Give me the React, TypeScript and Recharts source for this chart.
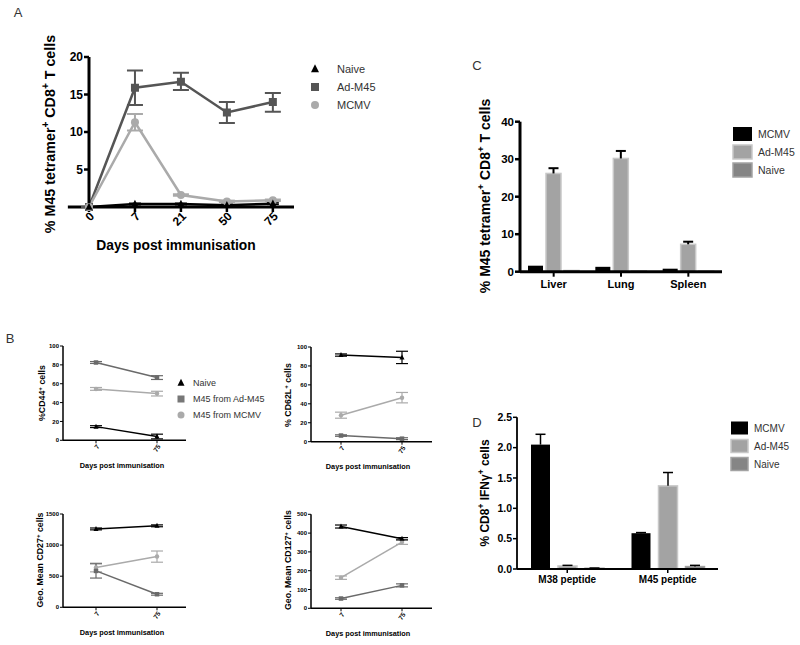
import React from 'react';
import { LineChart, Line, BarChart, Bar, XAxis, YAxis, ErrorBar, ReferenceLine, Label, Legend } from 'recharts';

const W = 800;
const H = 645;
const FONT = '"Liberation Sans", Arial, Helvetica, sans-serif';

const BLACK = '#000000';
const DARK_A = '#555555';
const DARK_B = '#6a6a6a';
const LIGHT = '#aaaaaa';
const BAR_AD = '#a3a3a3';
const BAR_AD_EDGE = '#c8c8c8';
const BAR_NAIVE = '#858585';
const BAR_NAIVE_EDGE = '#a3a3a3';
const LEG_TEXT = '#333333';

// ---------------- Panel A ----------------
const daysA = ['0', '7', '21', '50', '75'];
const naiveA = [0, 0.4, 0.4, 0.25, 0.45];
const naiveAErr = [0, 0.1, 0.1, 0.1, 0.1];
const adA = [0, 15.9, 16.7, 12.6, 14.0];
const adAErrLow = [0, 2.3, 1.1, 1.4, 1.3];
const adAErrHigh = [0, 2.3, 1.2, 1.4, 1.2];
const mcmvA = [0, 11.3, 1.6, 0.75, 0.9];
const mcmvAErr = [0, 1.1, 0.1, 0.1, 0.1];
const yTicksA = [5, 10, 15, 20];
const legendA = ['Naive', 'Ad-M45', 'MCMV'];

// ---------------- Panel B ----------------
const daysB = ['7', '75'];
const legendB = ['Naive', 'M45 from Ad-M45', 'M45 from MCMV'];

const cd44Naive = [14.5, 4];
const cd44NaiveErr = [1, 2.5];
const cd44Ad = [82.5, 66.5];
const cd44AdErr = [1, 2];
const cd44Mcmv = [54.5, 49.5];
const cd44McmvErr = [1.5, 2.5];

const cd62Naive = [91.5, 89];
const cd62NaiveErr = [1.2, 6.5];
const cd62Ad = [6.5, 3.2];
const cd62AdErr = [0.8, 1];
const cd62Mcmv = [28, 46.5];
const cd62McmvErr = [3.2, 5.5];

const cd27Naive = [1260, 1310];
const cd27NaiveErr = [15, 15];
const cd27Ad = [585, 210];
const cd27AdErr = [115, 15];
const cd27Mcmv = [640, 815];
const cd27McmvErr = [70, 90];

const cd127Naive = [435, 370];
const cd127NaiveErr = [8, 6];
const cd127Ad = [52, 122];
const cd127AdErr = [4, 8];
const cd127Mcmv = [163, 352];
const cd127McmvErr = [9, 12];

const pctTicks = [0, 20, 40, 60, 80, 100];
const cd27Ticks = [0, 500, 1000, 1500];
const cd127Ticks = [0, 100, 200, 300, 400, 500];

// ---------------- Panel C ----------------
const tissuesC = ['Liver', 'Lung', 'Spleen'];
const mcmvC = [1.6, 1.3, 0.8];
const mcmvCErr = [0, 0, 0];
const adC = [26.2, 30.2, 7.3];
const adCErr = [1.4, 2.0, 0.7];
const naiveC = [0.3, 0.15, 0.1];
const naiveCErr = [0, 0, 0];
const yTicksC = [0, 10, 20, 30, 40];
const legendC = ['MCMV', 'Ad-M45', 'Naive'];

// ---------------- Panel D ----------------
const peptidesD = ['M38 peptide', 'M45 peptide'];
const mcmvD = [2.05, 0.59];
const mcmvDErr = [0.17, 0.01];
const adD = [0.05, 1.37];
const adDErr = [0.01, 0.22];
const naiveD = [0.012, 0.04];
const naiveDErr = [0.004, 0.02];
const yTicksD = [0, 0.5, 1, 1.5, 2, 2.5];
const legendD = ['MCMV', 'Ad-M45', 'Naive'];

// ---------------- helpers ----------------
type Seg = [string, boolean?];

const RichText = ({ cx, cy, fs, segs, rotate = 0, weight = 'bold', fill = '#000' }: any) => {
  const shift = fs * 0.4;
  let sup = false;
  const kids: any[] = [];
  segs.forEach((s: Seg, i: number) => {
    const isSup = !!s[1];
    let dy: number | undefined;
    if (isSup && !sup) dy = -shift;
    else if (!isSup && sup) dy = shift;
    kids.push(
      <tspan key={i} dy={dy} fontSize={isSup ? fs * 0.7 : fs}>
        {s[0]}
      </tspan>
    );
    sup = isSup;
  });
  const x = rotate === -90 ? cx + fs * 0.35 : cx;
  const y = rotate === -90 ? cy : cy + fs * 0.35;
  return (
    <text
      x={x}
      y={y}
      textAnchor="middle"
      fontSize={fs}
      fontWeight={weight}
      fontFamily={FONT}
      fill={fill}
      transform={rotate ? `rotate(${rotate}, ${x}, ${y})` : undefined}
    >
      {kids}
    </text>
  );
};

const RotTick = (props: any) => {
  const { x, y, payload, labels, fs, angle, dx = 0, dy = 0 } = props;
  const label = labels ? labels[payload.value] : payload.value;
  const px = x + dx;
  const py = y + dy;
  return (
    <text
      x={px}
      y={py}
      transform={`rotate(${angle}, ${px}, ${py})`}
      textAnchor="end"
      dy="0.35em"
      fontSize={fs}
      fontWeight="bold"
      fontFamily={FONT}
      fill="#000"
    >
      {label}
    </text>
  );
};

const Marker = ({ shape, x, y, s, fill }: any) => {
  if (shape === 'tri')
    return <polygon points={`${x},${y - s * 0.6} ${x + s / 2},${y + s * 0.4} ${x - s / 2},${y + s * 0.4}`} fill={fill} />;
  if (shape === 'sq') return <rect x={x - s / 2} y={y - s / 2} width={s} height={s} fill={fill} />;
  return <circle cx={x} cy={y} r={s / 2} fill={fill} />;
};

const dotFn = (shape: string, s: number, fill: string) => (p: any) => {
  if (p.cx == null || p.cy == null) return <g key={`n${p.index}`} />;
  return <Marker key={`d${p.index}`} shape={shape} x={p.cx} y={p.cy} s={s} fill={fill} />;
};

const barShape = (valKey: string, errKey: string, fill: string, edge: string | undefined, cap: number, sw: number) => (p: any) => {
  const { x, y, width, height, payload } = p;
  const v = payload[valKey];
  const e = payload[errKey] || 0;
  const k = v > 0 ? height / v : 0;
  const top = y - e * k;
  const cx = x + width / 2;
  return (
    <g>
      <rect
        x={x}
        y={y}
        width={width}
        height={Math.max(height, 0)}
        fill={fill}
        stroke={edge || 'none'}
        strokeWidth={edge ? 1.5 : 0}
      />
      {e > 0 && (
        <g>
          <line x1={cx} x2={cx} y1={y} y2={top} stroke="#000" strokeWidth={sw} />
          <line x1={cx - cap / 2} x2={cx + cap / 2} y1={top} y2={top} stroke="#000" strokeWidth={sw} />
        </g>
      )}
    </g>
  );
};

const Layer = ({ children }: any) => (
  <div style={{ position: 'absolute', left: 0, top: 0, width: W, height: H }}>{children}</div>
);

const LegendMarkers = ({ names, shapes, colors, size, fs, mx, tx, rows, w, h }: any) => (
  <svg width={w} height={h} style={{ display: 'block', overflow: 'visible' }}>
    {names.map((n: string, i: number) => (
      <g key={n}>
        <Marker shape={shapes[i]} x={mx} y={rows[i]} s={size} fill={colors[i]} />
        <text x={tx} y={rows[i] + fs * 0.35} fontSize={fs} fontFamily={FONT} fill={LEG_TEXT}>
          {n}
        </text>
      </g>
    ))}
  </svg>
);

const LegendBoxes = ({ names, fills, edges, bx, bw, bh, fs, tx, rows, w, h }: any) => (
  <svg width={w} height={h} style={{ display: 'block', overflow: 'visible' }}>
    {names.map((n: string, i: number) => (
      <g key={n}>
        <rect
          x={bx}
          y={rows[i] - bh / 2}
          width={bw}
          height={bh}
          fill={fills[i]}
          stroke={edges[i] || 'none'}
          strokeWidth={edges[i] ? 1.5 : 0}
        />
        <text x={tx} y={rows[i] + fs * 0.35} fontSize={fs} fontFamily={FONT} fill={LEG_TEXT}>
          {n}
        </text>
      </g>
    ))}
  </svg>
);

// ---------------- Panel A chart ----------------
const dataA = daysA.map((d, i) => ({
  idx: i,
  day: d,
  naive: naiveA[i],
  naiveErr: naiveAErr[i],
  ad: adA[i],
  adErr: [adAErrLow[i], adAErrHigh[i]],
  mcmv: mcmvA[i],
  mcmvErr: mcmvAErr[i],
}));

const ChartA = () => {
  const left = 89, right = 294, top = 57, bottom = 207;
  return (
    <LineChart
      width={W}
      height={H}
      data={dataA}
      margin={{ top, right: W - right, left: left - 50, bottom: H - bottom - 40 }}
    >
      <XAxis
        type="number"
        dataKey="idx"
        domain={[0, 4.46]}
        ticks={[0, 1, 2, 3, 4]}
        interval={0}
        height={40}
        axisLine={{ stroke: '#000', strokeWidth: 3 }}
        tickLine={{ stroke: '#000', strokeWidth: 2.5 }}
        tickSize={5}
        tick={<RotTick labels={daysA} fs={12} angle={-45} dx={3} dy={0} />}
      >
        <Label content={() => <RichText cx={176} cy={245} fs={13.8} segs={[['Days post immunisation']]} />} />
      </XAxis>
      <YAxis
        domain={[0, 20]}
        ticks={yTicksA}
        interval={0}
        width={50}
        axisLine={{ stroke: '#000', strokeWidth: 3 }}
        tickLine={{ stroke: '#000', strokeWidth: 2.5 }}
        tickSize={5}
        tickMargin={1}
        tick={{ fontSize: 12, fontWeight: 'bold', fill: '#000', fontFamily: FONT }}
      >
        <Label
          content={() => (
            <RichText
              cx={50}
              cy={134}
              fs={14.3}
              rotate={-90}
              segs={[['% M45 tetramer'], ['+', true], [' CD8'], ['+', true], [' T cells']]}
            />
          )}
        />
      </YAxis>
      <ReferenceLine
        segment={[{ x: -0.46, y: 0 }, { x: 0, y: 0 }]}
        stroke="#000"
        strokeWidth={3}
        ifOverflow="visible"
      />
      <Line dataKey="ad" stroke={DARK_A} strokeWidth={2.5} dot={dotFn('sq', 8, DARK_A)} isAnimationActive={false}>
        <ErrorBar dataKey="adErr" width={8} stroke={DARK_A} strokeWidth={2} direction="y" />
      </Line>
      <Line dataKey="mcmv" stroke={LIGHT} strokeWidth={2.5} dot={dotFn('circ', 8, LIGHT)} isAnimationActive={false}>
        <ErrorBar dataKey="mcmvErr" width={8} stroke={LIGHT} strokeWidth={2} direction="y" />
      </Line>
      <Line dataKey="naive" stroke={BLACK} strokeWidth={2.5} dot={dotFn('tri', 7, BLACK)} isAnimationActive={false}>
        <ErrorBar dataKey="naiveErr" width={6} stroke={BLACK} strokeWidth={1.5} direction="y" />
      </Line>
      <Legend
        layout="vertical"
        align="center"
        verticalAlign="middle"
        wrapperStyle={{ left: 305, top: 60, width: 90, height: 56 }}
        content={
          <LegendMarkers
            names={legendA}
            shapes={['tri', 'sq', 'circ']}
            colors={[BLACK, DARK_A, LIGHT]}
            size={8}
            fs={11}
            mx={10}
            tx={32}
            rows={[9, 27, 45]}
            w={90}
            h={56}
          />
        }
      />
    </LineChart>
  );
};

// ---------------- Panel B chart ----------------
const BPanel = (props: any) => {
  const {
    naive, naiveErr, ad, adErr, mcmv, mcmvErr, yMax, yTicks,
    left, right, top, bottom, padL, padR, ylabel, ylabelX, ylabelY, titleX, titleY, legend,
  } = props;
  const data = daysB.map((d, i) => ({
    day: d,
    naive: naive[i],
    naiveErr: naiveErr[i],
    ad: ad[i],
    adErr: adErr[i],
    mcmv: mcmv[i],
    mcmvErr: mcmvErr[i],
  }));
  return (
    <LineChart
      width={W}
      height={H}
      data={data}
      margin={{ top, right: W - right, left: left - 30, bottom: H - bottom - 25 }}
    >
      <XAxis
        dataKey="day"
        padding={{ left: padL, right: padR }}
        interval={0}
        height={25}
        axisLine={{ stroke: '#000', strokeWidth: 1.5 }}
        tickLine={{ stroke: '#000', strokeWidth: 1 }}
        tickSize={3}
        tick={<RotTick fs={6.5} angle={-55} dx={2} dy={0} />}
      >
        <Label content={() => <RichText cx={titleX} cy={titleY} fs={7.3} segs={[['Days post immunisation']]} />} />
      </XAxis>
      <YAxis
        domain={[0, yMax]}
        ticks={yTicks}
        interval={0}
        width={30}
        axisLine={{ stroke: '#000', strokeWidth: 1.5 }}
        tickLine={{ stroke: '#000', strokeWidth: 1 }}
        tickSize={3}
        tickMargin={1}
        tick={{ fontSize: 6, fontWeight: 'bold', fill: '#000', fontFamily: FONT }}
      >
        <Label content={() => <RichText cx={ylabelX} cy={ylabelY} fs={8.8} rotate={-90} segs={ylabel} />} />
      </YAxis>
      <Line dataKey="mcmv" stroke={LIGHT} strokeWidth={1.5} dot={dotFn('circ', 4.5, LIGHT)} isAnimationActive={false}>
        <ErrorBar dataKey="mcmvErr" width={6} stroke={LIGHT} strokeWidth={1.2} direction="y" />
      </Line>
      <Line dataKey="ad" stroke={DARK_B} strokeWidth={1.5} dot={dotFn('sq', 4.5, DARK_B)} isAnimationActive={false}>
        <ErrorBar dataKey="adErr" width={6} stroke={DARK_B} strokeWidth={1.2} direction="y" />
      </Line>
      <Line dataKey="naive" stroke={BLACK} strokeWidth={1.5} dot={dotFn('tri', 5, BLACK)} isAnimationActive={false}>
        <ErrorBar dataKey="naiveErr" width={6} stroke={BLACK} strokeWidth={1.2} direction="y" />
      </Line>
      {legend && (
        <Legend
          layout="vertical"
          align="center"
          verticalAlign="middle"
          wrapperStyle={{ left: 175, top: 374, width: 100, height: 50 }}
          content={
            <LegendMarkers
              names={legendB}
              shapes={['tri', 'sq', 'circ']}
              colors={[BLACK, '#777777', LIGHT]}
              size={7}
              fs={9}
              mx={6}
              tx={18}
              rows={[9, 25, 41]}
              w={100}
              h={50}
            />
          }
        />
      )}
    </LineChart>
  );
};

// ---------------- Panel C chart ----------------
const dataC = tissuesC.map((t, i) => ({
  tissue: t,
  mcmv: mcmvC[i],
  mcmvErr: mcmvCErr[i],
  ad: adC[i],
  adErr: adCErr[i],
  naive: naiveC[i],
  naiveErr: naiveCErr[i],
}));

const ChartC = () => {
  const left = 520, right = 722, top = 121.7, bottom = 271.7;
  return (
    <BarChart
      width={W}
      height={H}
      data={dataC}
      margin={{ top, right: W - right, left: left - 40, bottom: H - bottom - 30 }}
      barSize={15}
      barGap={3}
    >
      <Bar dataKey="mcmv" isAnimationActive={false} shape={barShape('mcmv', 'mcmvErr', BLACK, undefined, 10, 2)} />
      <Bar dataKey="ad" isAnimationActive={false} shape={barShape('ad', 'adErr', BAR_AD, BAR_AD_EDGE, 10, 2)} />
      <Bar dataKey="naive" isAnimationActive={false} shape={barShape('naive', 'naiveErr', BAR_NAIVE, BAR_NAIVE_EDGE, 10, 2)} />
      <XAxis
        dataKey="tissue"
        interval={0}
        height={30}
        axisLine={{ stroke: '#000', strokeWidth: 3 }}
        tickLine={{ stroke: '#000', strokeWidth: 2 }}
        tickSize={5}
        tickMargin={3}
        tick={{ fontSize: 11, fontWeight: 'bold', fill: '#000', fontFamily: FONT }}
      />
      <YAxis
        domain={[0, 40]}
        ticks={yTicksC}
        interval={0}
        width={40}
        axisLine={{ stroke: '#000', strokeWidth: 3 }}
        tickLine={{ stroke: '#000', strokeWidth: 2.5 }}
        tickSize={5}
        tickMargin={1}
        tick={{ fontSize: 11.5, fontWeight: 'bold', fill: '#000', fontFamily: FONT }}
      >
        <Label
          content={() => (
            <RichText
              cx={485}
              cy={196}
              fs={14}
              rotate={-90}
              segs={[['% M45 tetramer'], ['+', true], [' CD8'], ['+', true], [' T cells']]}
            />
          )}
        />
      </YAxis>
      <Legend
        layout="vertical"
        align="center"
        verticalAlign="middle"
        wrapperStyle={{ left: 730, top: 120, width: 70, height: 60 }}
        content={
          <LegendBoxes
            names={legendC}
            fills={[BLACK, BAR_AD, BAR_NAIVE]}
            edges={[undefined, BAR_AD_EDGE, BAR_NAIVE_EDGE]}
            bx={3}
            bw={19}
            bh={14}
            fs={10.5}
            tx={28}
            rows={[14, 32, 50]}
            w={70}
            h={60}
          />
        }
      />
    </BarChart>
  );
};

// ---------------- Panel D chart ----------------
const dataD = peptidesD.map((p, i) => ({
  peptide: p,
  mcmv: mcmvD[i],
  mcmvErr: mcmvDErr[i],
  ad: adD[i],
  adErr: adDErr[i],
  naive: naiveD[i],
  naiveErr: naiveDErr[i],
}));

const ChartD = () => {
  const left = 517, right = 718, top = 417.3, bottom = 569;
  return (
    <BarChart
      width={W}
      height={H}
      data={dataD}
      margin={{ top, right: W - right, left: left - 40, bottom: H - bottom - 30 }}
      barSize={19}
      barGap={8}
    >
      <Bar dataKey="mcmv" isAnimationActive={false} shape={barShape('mcmv', 'mcmvErr', BLACK, undefined, 10, 1.5)} />
      <Bar dataKey="ad" isAnimationActive={false} shape={barShape('ad', 'adErr', BAR_AD, BAR_AD_EDGE, 10, 1.5)} />
      <Bar dataKey="naive" isAnimationActive={false} shape={barShape('naive', 'naiveErr', BAR_NAIVE, BAR_NAIVE_EDGE, 10, 1.5)} />
      <XAxis
        dataKey="peptide"
        interval={0}
        height={30}
        axisLine={{ stroke: '#000', strokeWidth: 1.8 }}
        tickLine={{ stroke: '#000', strokeWidth: 1.5 }}
        tickSize={4}
        tickMargin={3}
        tick={{ fontSize: 10, fontWeight: 'bold', fill: '#000', fontFamily: FONT }}
      />
      <YAxis
        domain={[0, 2.5]}
        ticks={yTicksD}
        interval={0}
        width={40}
        axisLine={{ stroke: '#000', strokeWidth: 1.8 }}
        tickLine={{ stroke: '#000', strokeWidth: 1.5 }}
        tickSize={4}
        tickMargin={1}
        tickFormatter={(v: number) => v.toFixed(1)}
        tick={{ fontSize: 10.5, fontWeight: 'bold', fill: '#000', fontFamily: FONT }}
      >
        <Label
          content={() => (
            <RichText
              cx={485}
              cy={493}
              fs={12}
              rotate={-90}
              segs={[['% CD8'], ['+', true], [' IFNγ'], ['+', true], [' cells']]}
            />
          )}
        />
      </YAxis>
      <Legend
        layout="vertical"
        align="center"
        verticalAlign="middle"
        wrapperStyle={{ left: 728, top: 415, width: 70, height: 60 }}
        content={
          <LegendBoxes
            names={legendD}
            fills={[BLACK, BAR_AD, BAR_NAIVE]}
            edges={[undefined, BAR_AD_EDGE, BAR_NAIVE_EDGE]}
            bx={3}
            bw={17}
            bh={13}
            fs={10}
            tx={26}
            rows={[13, 31, 49]}
            w={70}
            h={60}
          />
        }
      />
    </BarChart>
  );
};

const PanelLetters = () => (
  <svg width={W} height={H} style={{ position: 'absolute', left: 0, top: 0 }}>
    {[
      ['A', 18, 12],
      ['B', 10, 338],
      ['C', 477, 65],
      ['D', 477, 422],
    ].map(([t, x, y]: any) => (
      <text key={t} x={x} y={y + 4.5} textAnchor="middle" fontSize={13} fontFamily={FONT} fill="#333">
        {t}
      </text>
    ))}
  </svg>
);

export default function App() {
  return (
    <div style={{ position: 'absolute', left: 0, top: 0, width: W, height: H, background: '#fff', overflow: 'hidden' }}>
      <PanelLetters />
      <Layer>
        <ChartA />
      </Layer>
      <Layer>
        <BPanel
          naive={cd44Naive} naiveErr={cd44NaiveErr} ad={cd44Ad} adErr={cd44AdErr} mcmv={cd44Mcmv} mcmvErr={cd44McmvErr}
          yMax={100} yTicks={pctTicks} left={63} right={186} top={346} bottom={440.3} padL={33} padR={29}
          ylabel={[['%CD44'], ['+', true], [' cells']]} ylabelX={42} ylabelY={393} titleX={122} titleY={465} legend
        />
      </Layer>
      <Layer>
        <BPanel
          naive={cd62Naive} naiveErr={cd62NaiveErr} ad={cd62Ad} adErr={cd62AdErr} mcmv={cd62Mcmv} mcmvErr={cd62McmvErr}
          yMax={100} yTicks={pctTicks} left={311} right={432} top={347} bottom={441.7} padL={30} padR={30}
          ylabel={[['% CD62L'], ['+', true], [' cells']]} ylabelX={288} ylabelY={395} titleX={368} titleY={466}
        />
      </Layer>
      <Layer>
        <BPanel
          naive={cd27Naive} naiveErr={cd27NaiveErr} ad={cd27Ad} adErr={cd27AdErr} mcmv={cd27Mcmv} mcmvErr={cd27McmvErr}
          yMax={1500} yTicks={cd27Ticks} left={63} right={186} top={514} bottom={607.3} padL={33} padR={29}
          ylabel={[['Geo. Mean CD27'], ['+', true], [' cells']]} ylabelX={40} ylabelY={560} titleX={122} titleY={632}
        />
      </Layer>
      <Layer>
        <BPanel
          naive={cd127Naive} naiveErr={cd127NaiveErr} ad={cd127Ad} adErr={cd127AdErr} mcmv={cd127Mcmv} mcmvErr={cd127McmvErr}
          yMax={500} yTicks={cd127Ticks} left={311} right={432} top={514.3} bottom={608.3} padL={30} padR={30}
          ylabel={[['Geo. Mean CD127'], ['+', true], [' cells']]} ylabelX={288} ylabelY={560} titleX={368} titleY={633}
        />
      </Layer>
      <Layer>
        <ChartC />
      </Layer>
      <Layer>
        <ChartD />
      </Layer>
    </div>
  );
}
